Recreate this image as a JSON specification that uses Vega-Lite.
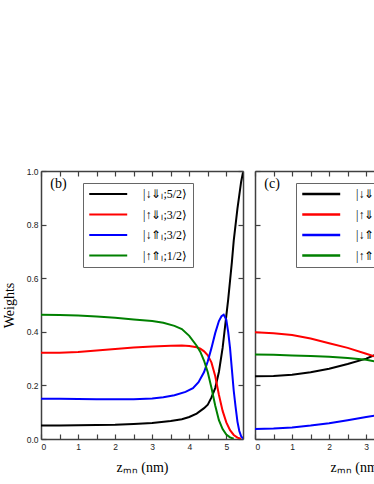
{
  "$schema": "https://vega.github.io/schema/vega-lite/v6.json",
  "padding": {"left": 2, "top": 167, "right": 0, "bottom": 0},
  "spacing": 10,
  "config": {
    "view": {"stroke": null},
    "font": "Liberation Sans",
    "axis": {
      "domainColor": "#404040", "domainWidth": 1.5,
      "tickColor": "#404040", "tickWidth": 1.2, "tickSize": -5,
      "labelFont": "Liberation Sans", "labelFontSize": 8.5, "labelColor": "#222",
      "labelPadding": 8, "grid": false,
      "titleFont": "Liberation Serif", "titleFontSize": 14, "titleFontWeight": "normal", "titleColor": "#000"
    },
    "legend": {
      "orient": "none", "title": null,
      "symbolType": "M-1,0H7", "symbolSize": 90, "symbolStrokeWidth": 2.5,
      "labelFont": "Liberation Serif", "labelFontSize": 12, "labelColor": "#000",
      "strokeColor": "#666", "fillColor": "white", "padding": 5, "rowPadding": 8.5, "labelOffset": 43
    }
  },
  "datasets": {
    "curves": [
      {"panel":"b","series":"|↓⇓ₗ;5/2⟩","x":0,"y":0.050},
      {"panel":"b","series":"|↓⇓ₗ;5/2⟩","x":0.5,"y":0.050},
      {"panel":"b","series":"|↓⇓ₗ;5/2⟩","x":1,"y":0.051},
      {"panel":"b","series":"|↓⇓ₗ;5/2⟩","x":1.5,"y":0.052},
      {"panel":"b","series":"|↓⇓ₗ;5/2⟩","x":2,"y":0.053},
      {"panel":"b","series":"|↓⇓ₗ;5/2⟩","x":2.5,"y":0.056},
      {"panel":"b","series":"|↓⇓ₗ;5/2⟩","x":3,"y":0.060},
      {"panel":"b","series":"|↓⇓ₗ;5/2⟩","x":3.5,"y":0.067},
      {"panel":"b","series":"|↓⇓ₗ;5/2⟩","x":3.8,"y":0.074},
      {"panel":"b","series":"|↓⇓ₗ;5/2⟩","x":4.0,"y":0.082},
      {"panel":"b","series":"|↓⇓ₗ;5/2⟩","x":4.2,"y":0.095},
      {"panel":"b","series":"|↓⇓ₗ;5/2⟩","x":4.4,"y":0.115},
      {"panel":"b","series":"|↓⇓ₗ;5/2⟩","x":4.5,"y":0.128},
      {"panel":"b","series":"|↓⇓ₗ;5/2⟩","x":4.6,"y":0.155},
      {"panel":"b","series":"|↓⇓ₗ;5/2⟩","x":4.7,"y":0.19},
      {"panel":"b","series":"|↓⇓ₗ;5/2⟩","x":4.8,"y":0.25},
      {"panel":"b","series":"|↓⇓ₗ;5/2⟩","x":4.9,"y":0.34},
      {"panel":"b","series":"|↓⇓ₗ;5/2⟩","x":5.0,"y":0.46},
      {"panel":"b","series":"|↓⇓ₗ;5/2⟩","x":5.05,"y":0.52},
      {"panel":"b","series":"|↓⇓ₗ;5/2⟩","x":5.1,"y":0.59},
      {"panel":"b","series":"|↓⇓ₗ;5/2⟩","x":5.15,"y":0.66},
      {"panel":"b","series":"|↓⇓ₗ;5/2⟩","x":5.2,"y":0.74},
      {"panel":"b","series":"|↓⇓ₗ;5/2⟩","x":5.25,"y":0.80},
      {"panel":"b","series":"|↓⇓ₗ;5/2⟩","x":5.3,"y":0.86},
      {"panel":"b","series":"|↓⇓ₗ;5/2⟩","x":5.35,"y":0.91},
      {"panel":"b","series":"|↓⇓ₗ;5/2⟩","x":5.4,"y":0.96},
      {"panel":"b","series":"|↓⇓ₗ;5/2⟩","x":5.45,"y":0.995},

      {"panel":"b","series":"|↑⇓ₗ;3/2⟩","x":0,"y":0.322},
      {"panel":"b","series":"|↑⇓ₗ;3/2⟩","x":0.5,"y":0.322},
      {"panel":"b","series":"|↑⇓ₗ;3/2⟩","x":1,"y":0.325},
      {"panel":"b","series":"|↑⇓ₗ;3/2⟩","x":1.5,"y":0.330},
      {"panel":"b","series":"|↑⇓ₗ;3/2⟩","x":2,"y":0.336},
      {"panel":"b","series":"|↑⇓ₗ;3/2⟩","x":2.5,"y":0.341},
      {"panel":"b","series":"|↑⇓ₗ;3/2⟩","x":3,"y":0.345},
      {"panel":"b","series":"|↑⇓ₗ;3/2⟩","x":3.5,"y":0.348},
      {"panel":"b","series":"|↑⇓ₗ;3/2⟩","x":3.8,"y":0.349},
      {"panel":"b","series":"|↑⇓ₗ;3/2⟩","x":4.0,"y":0.347},
      {"panel":"b","series":"|↑⇓ₗ;3/2⟩","x":4.2,"y":0.342},
      {"panel":"b","series":"|↑⇓ₗ;3/2⟩","x":4.3,"y":0.337},
      {"panel":"b","series":"|↑⇓ₗ;3/2⟩","x":4.4,"y":0.327},
      {"panel":"b","series":"|↑⇓ₗ;3/2⟩","x":4.5,"y":0.312},
      {"panel":"b","series":"|↑⇓ₗ;3/2⟩","x":4.6,"y":0.285},
      {"panel":"b","series":"|↑⇓ₗ;3/2⟩","x":4.7,"y":0.235},
      {"panel":"b","series":"|↑⇓ₗ;3/2⟩","x":4.8,"y":0.165},
      {"panel":"b","series":"|↑⇓ₗ;3/2⟩","x":4.9,"y":0.105},
      {"panel":"b","series":"|↑⇓ₗ;3/2⟩","x":5.0,"y":0.062},
      {"panel":"b","series":"|↑⇓ₗ;3/2⟩","x":5.1,"y":0.033},
      {"panel":"b","series":"|↑⇓ₗ;3/2⟩","x":5.2,"y":0.015},
      {"panel":"b","series":"|↑⇓ₗ;3/2⟩","x":5.3,"y":0.005},
      {"panel":"b","series":"|↑⇓ₗ;3/2⟩","x":5.4,"y":0.001},

      {"panel":"b","series":"|↓⇑ₗ;3/2⟩","x":0,"y":0.150},
      {"panel":"b","series":"|↓⇑ₗ;3/2⟩","x":0.5,"y":0.150},
      {"panel":"b","series":"|↓⇑ₗ;3/2⟩","x":1,"y":0.149},
      {"panel":"b","series":"|↓⇑ₗ;3/2⟩","x":1.5,"y":0.148},
      {"panel":"b","series":"|↓⇑ₗ;3/2⟩","x":2,"y":0.148},
      {"panel":"b","series":"|↓⇑ₗ;3/2⟩","x":2.5,"y":0.148},
      {"panel":"b","series":"|↓⇑ₗ;3/2⟩","x":3,"y":0.151},
      {"panel":"b","series":"|↓⇑ₗ;3/2⟩","x":3.3,"y":0.156},
      {"panel":"b","series":"|↓⇑ₗ;3/2⟩","x":3.6,"y":0.163},
      {"panel":"b","series":"|↓⇑ₗ;3/2⟩","x":3.9,"y":0.176},
      {"panel":"b","series":"|↓⇑ₗ;3/2⟩","x":4.1,"y":0.190},
      {"panel":"b","series":"|↓⇑ₗ;3/2⟩","x":4.25,"y":0.212},
      {"panel":"b","series":"|↓⇑ₗ;3/2⟩","x":4.4,"y":0.25},
      {"panel":"b","series":"|↓⇑ₗ;3/2⟩","x":4.5,"y":0.29},
      {"panel":"b","series":"|↓⇑ₗ;3/2⟩","x":4.6,"y":0.34},
      {"panel":"b","series":"|↓⇑ₗ;3/2⟩","x":4.7,"y":0.395},
      {"panel":"b","series":"|↓⇑ₗ;3/2⟩","x":4.8,"y":0.44},
      {"panel":"b","series":"|↓⇑ₗ;3/2⟩","x":4.87,"y":0.458},
      {"panel":"b","series":"|↓⇑ₗ;3/2⟩","x":4.93,"y":0.464},
      {"panel":"b","series":"|↓⇑ₗ;3/2⟩","x":5.0,"y":0.445},
      {"panel":"b","series":"|↓⇑ₗ;3/2⟩","x":5.05,"y":0.40},
      {"panel":"b","series":"|↓⇑ₗ;3/2⟩","x":5.1,"y":0.34},
      {"panel":"b","series":"|↓⇑ₗ;3/2⟩","x":5.15,"y":0.26},
      {"panel":"b","series":"|↓⇑ₗ;3/2⟩","x":5.2,"y":0.18},
      {"panel":"b","series":"|↓⇑ₗ;3/2⟩","x":5.25,"y":0.12},
      {"panel":"b","series":"|↓⇑ₗ;3/2⟩","x":5.3,"y":0.065},
      {"panel":"b","series":"|↓⇑ₗ;3/2⟩","x":5.35,"y":0.03},
      {"panel":"b","series":"|↓⇑ₗ;3/2⟩","x":5.4,"y":0.01},
      {"panel":"b","series":"|↓⇑ₗ;3/2⟩","x":5.45,"y":0.002},

      {"panel":"b","series":"|↑⇑ₗ;1/2⟩","x":0,"y":0.464},
      {"panel":"b","series":"|↑⇑ₗ;1/2⟩","x":0.5,"y":0.463},
      {"panel":"b","series":"|↑⇑ₗ;1/2⟩","x":1,"y":0.461},
      {"panel":"b","series":"|↑⇑ₗ;1/2⟩","x":1.5,"y":0.457},
      {"panel":"b","series":"|↑⇑ₗ;1/2⟩","x":2,"y":0.452},
      {"panel":"b","series":"|↑⇑ₗ;1/2⟩","x":2.5,"y":0.446},
      {"panel":"b","series":"|↑⇑ₗ;1/2⟩","x":3,"y":0.440},
      {"panel":"b","series":"|↑⇑ₗ;1/2⟩","x":3.3,"y":0.434},
      {"panel":"b","series":"|↑⇑ₗ;1/2⟩","x":3.6,"y":0.422},
      {"panel":"b","series":"|↑⇑ₗ;1/2⟩","x":3.8,"y":0.410},
      {"panel":"b","series":"|↑⇑ₗ;1/2⟩","x":4.0,"y":0.385},
      {"panel":"b","series":"|↑⇑ₗ;1/2⟩","x":4.2,"y":0.348},
      {"panel":"b","series":"|↑⇑ₗ;1/2⟩","x":4.3,"y":0.325},
      {"panel":"b","series":"|↑⇑ₗ;1/2⟩","x":4.4,"y":0.292},
      {"panel":"b","series":"|↑⇑ₗ;1/2⟩","x":4.5,"y":0.249},
      {"panel":"b","series":"|↑⇑ₗ;1/2⟩","x":4.6,"y":0.190},
      {"panel":"b","series":"|↑⇑ₗ;1/2⟩","x":4.7,"y":0.125},
      {"panel":"b","series":"|↑⇑ₗ;1/2⟩","x":4.8,"y":0.070},
      {"panel":"b","series":"|↑⇑ₗ;1/2⟩","x":4.9,"y":0.037},
      {"panel":"b","series":"|↑⇑ₗ;1/2⟩","x":5.0,"y":0.017},
      {"panel":"b","series":"|↑⇑ₗ;1/2⟩","x":5.1,"y":0.006},
      {"panel":"b","series":"|↑⇑ₗ;1/2⟩","x":5.2,"y":0.001},

      {"panel":"c","series":"|↓⇓ₗ;5/2⟩","x":0,"y":0.234},
      {"panel":"c","series":"|↓⇓ₗ;5/2⟩","x":0.5,"y":0.235},
      {"panel":"c","series":"|↓⇓ₗ;5/2⟩","x":1,"y":0.240},
      {"panel":"c","series":"|↓⇓ₗ;5/2⟩","x":1.5,"y":0.249},
      {"panel":"c","series":"|↓⇓ₗ;5/2⟩","x":2,"y":0.262},
      {"panel":"c","series":"|↓⇓ₗ;5/2⟩","x":2.5,"y":0.280},
      {"panel":"c","series":"|↓⇓ₗ;5/2⟩","x":3,"y":0.300},
      {"panel":"c","series":"|↓⇓ₗ;5/2⟩","x":3.25,"y":0.314},

      {"panel":"c","series":"|↑⇓ₗ;3/2⟩","x":0,"y":0.398},
      {"panel":"c","series":"|↑⇓ₗ;3/2⟩","x":0.5,"y":0.395},
      {"panel":"c","series":"|↑⇓ₗ;3/2⟩","x":1,"y":0.388},
      {"panel":"c","series":"|↑⇓ₗ;3/2⟩","x":1.5,"y":0.375},
      {"panel":"c","series":"|↑⇓ₗ;3/2⟩","x":2,"y":0.357},
      {"panel":"c","series":"|↑⇓ₗ;3/2⟩","x":2.5,"y":0.340},
      {"panel":"c","series":"|↑⇓ₗ;3/2⟩","x":3,"y":0.318},
      {"panel":"c","series":"|↑⇓ₗ;3/2⟩","x":3.25,"y":0.307},

      {"panel":"c","series":"|↓⇑ₗ;3/2⟩","x":0,"y":0.037},
      {"panel":"c","series":"|↓⇑ₗ;3/2⟩","x":0.5,"y":0.039},
      {"panel":"c","series":"|↓⇑ₗ;3/2⟩","x":1,"y":0.043},
      {"panel":"c","series":"|↓⇑ₗ;3/2⟩","x":1.5,"y":0.050},
      {"panel":"c","series":"|↓⇑ₗ;3/2⟩","x":2,"y":0.059},
      {"panel":"c","series":"|↓⇑ₗ;3/2⟩","x":2.5,"y":0.070},
      {"panel":"c","series":"|↓⇑ₗ;3/2⟩","x":3,"y":0.082},
      {"panel":"c","series":"|↓⇑ₗ;3/2⟩","x":3.25,"y":0.088},

      {"panel":"c","series":"|↑⇑ₗ;1/2⟩","x":0,"y":0.315},
      {"panel":"c","series":"|↑⇑ₗ;1/2⟩","x":0.5,"y":0.314},
      {"panel":"c","series":"|↑⇑ₗ;1/2⟩","x":1,"y":0.312},
      {"panel":"c","series":"|↑⇑ₗ;1/2⟩","x":1.5,"y":0.310},
      {"panel":"c","series":"|↑⇑ₗ;1/2⟩","x":2,"y":0.307},
      {"panel":"c","series":"|↑⇑ₗ;1/2⟩","x":2.5,"y":0.302},
      {"panel":"c","series":"|↑⇑ₗ;1/2⟩","x":3,"y":0.296},
      {"panel":"c","series":"|↑⇑ₗ;1/2⟩","x":3.25,"y":0.289}
    ],
    "tags": [
      {"panel":"b","x":0.25,"y":0.952,"text":"(b)"},
      {"panel":"c","x":0.25,"y":0.952,"text":"(c)"}
    ]
  },
  "hconcat": [
    {
      "width": 202, "height": 268,
      "layer": [
        {
          "data": {"name": "curves"},
          "transform": [{"filter": "datum.panel == 'b'"}],
          "mark": {"type": "line", "strokeWidth": 2, "clip": true},
          "encoding": {
            "x": {"field": "x", "type": "quantitative",
              "scale": {"domain": [0, 5.45], "nice": false, "zero": false},
              "axis": {"orient": "bottom", "values": [0,0.5,1,1.5,2,2.5,3,3.5,4,4.5,5],
                "labelExpr": "datum.value % 1 == 0 ? format(datum.value, 'd') : ''", "title": "zₘₙ (nm)", "titlePadding": 10}},
            "y": {"field": "y", "type": "quantitative",
              "scale": {"domain": [0, 1], "nice": false},
              "axis": {"orient": "left", "values": [0,0.2,0.4,0.6,0.8,1.0], "format": ".1f", "title": "Weights", "titlePadding": 10}},
            "color": {"field": "series", "type": "nominal",
              "scale": {"domain": ["|↓⇓ₗ;5/2⟩","|↑⇓ₗ;3/2⟩","|↓⇑ₗ;3/2⟩","|↑⇑ₗ;1/2⟩"], "range": ["#000000","#ff0000","#0000ff","#008000"]},
              "legend": {"legendX": 42, "legendY": 12}},
            "strokeWidth": {"field": "series", "type": "nominal",
              "scale": {"domain": ["|↓⇓ₗ;5/2⟩","|↑⇓ₗ;3/2⟩","|↓⇑ₗ;3/2⟩","|↑⇑ₗ;1/2⟩"], "range": [2.2, 2, 1.5, 2]}, "legend": null}
          }
        },
        {
          "data": {"name": "curves"},
          "transform": [{"filter": "datum.panel == 'b'"}],
          "mark": {"type": "line", "opacity": 0},
          "encoding": {
            "x": {"field": "x", "type": "quantitative",
              "axis": {"orient": "top", "values": [0,0.5,1,1.5,2,2.5,3,3.5,4,4.5,5], "labels": false, "title": null}},
            "y": {"field": "y", "type": "quantitative",
              "axis": {"orient": "right", "values": [0,0.2,0.4,0.6,0.8,1.0], "labels": false, "title": null}}
          }
        },
        {
          "data": {"name": "tags"},
          "transform": [{"filter": "datum.panel == 'b'"}],
          "mark": {"type": "text", "font": "Liberation Serif", "fontSize": 14, "align": "left", "baseline": "middle"},
          "encoding": {
            "x": {"field": "x", "type": "quantitative", "axis": null},
            "y": {"field": "y", "type": "quantitative", "axis": null},
            "text": {"field": "text"}
          }
        }
      ],
      "resolve": {"axis": {"x": "independent", "y": "independent"}}
    },
    {
      "width": 202, "height": 268,
      "layer": [
        {
          "data": {"name": "curves"},
          "transform": [{"filter": "datum.panel == 'c'"}],
          "mark": {"type": "line", "strokeWidth": 2, "clip": true},
          "encoding": {
            "x": {"field": "x", "type": "quantitative",
              "scale": {"domain": [0, 5.45], "nice": false, "zero": false},
              "axis": {"orient": "bottom", "values": [0,0.5,1,1.5,2,2.5,3,3.5,4,4.5,5],
                "labelExpr": "datum.value % 1 == 0 ? format(datum.value, 'd') : ''", "title": "zₘₙ (nm)", "titlePadding": 10}},
            "y": {"field": "y", "type": "quantitative",
              "scale": {"domain": [0, 1], "nice": false},
              "axis": {"orient": "left", "values": [0,0.2,0.4,0.6,0.8,1.0], "labels": false, "title": null}},
            "color": {"field": "series", "type": "nominal",
              "scale": {"domain": ["|↓⇓ₗ;5/2⟩","|↑⇓ₗ;3/2⟩","|↓⇑ₗ;3/2⟩","|↑⇑ₗ;1/2⟩"], "range": ["#000000","#ff0000","#0000ff","#008000"]},
              "legend": {"legendX": 41, "legendY": 12}}
          }
        },
        {
          "data": {"name": "curves"},
          "transform": [{"filter": "datum.panel == 'c'"}],
          "mark": {"type": "line", "opacity": 0},
          "encoding": {
            "x": {"field": "x", "type": "quantitative",
              "axis": {"orient": "top", "values": [0,0.5,1,1.5,2,2.5,3,3.5,4,4.5,5], "labels": false, "title": null}},
            "y": {"field": "y", "type": "quantitative",
              "axis": {"orient": "right", "values": [0,0.2,0.4,0.6,0.8,1.0], "labels": false, "title": null}}
          }
        },
        {
          "data": {"name": "tags"},
          "transform": [{"filter": "datum.panel == 'c'"}],
          "mark": {"type": "text", "font": "Liberation Serif", "fontSize": 14, "align": "left", "baseline": "middle"},
          "encoding": {
            "x": {"field": "x", "type": "quantitative", "axis": null},
            "y": {"field": "y", "type": "quantitative", "axis": null},
            "text": {"field": "text"}
          }
        }
      ],
      "resolve": {"axis": {"x": "independent", "y": "independent"}}
    }
  ],
  "resolve": {"scale": {"color": "independent", "strokeWidth": "independent"}, "legend": {"color": "independent"}}
}
